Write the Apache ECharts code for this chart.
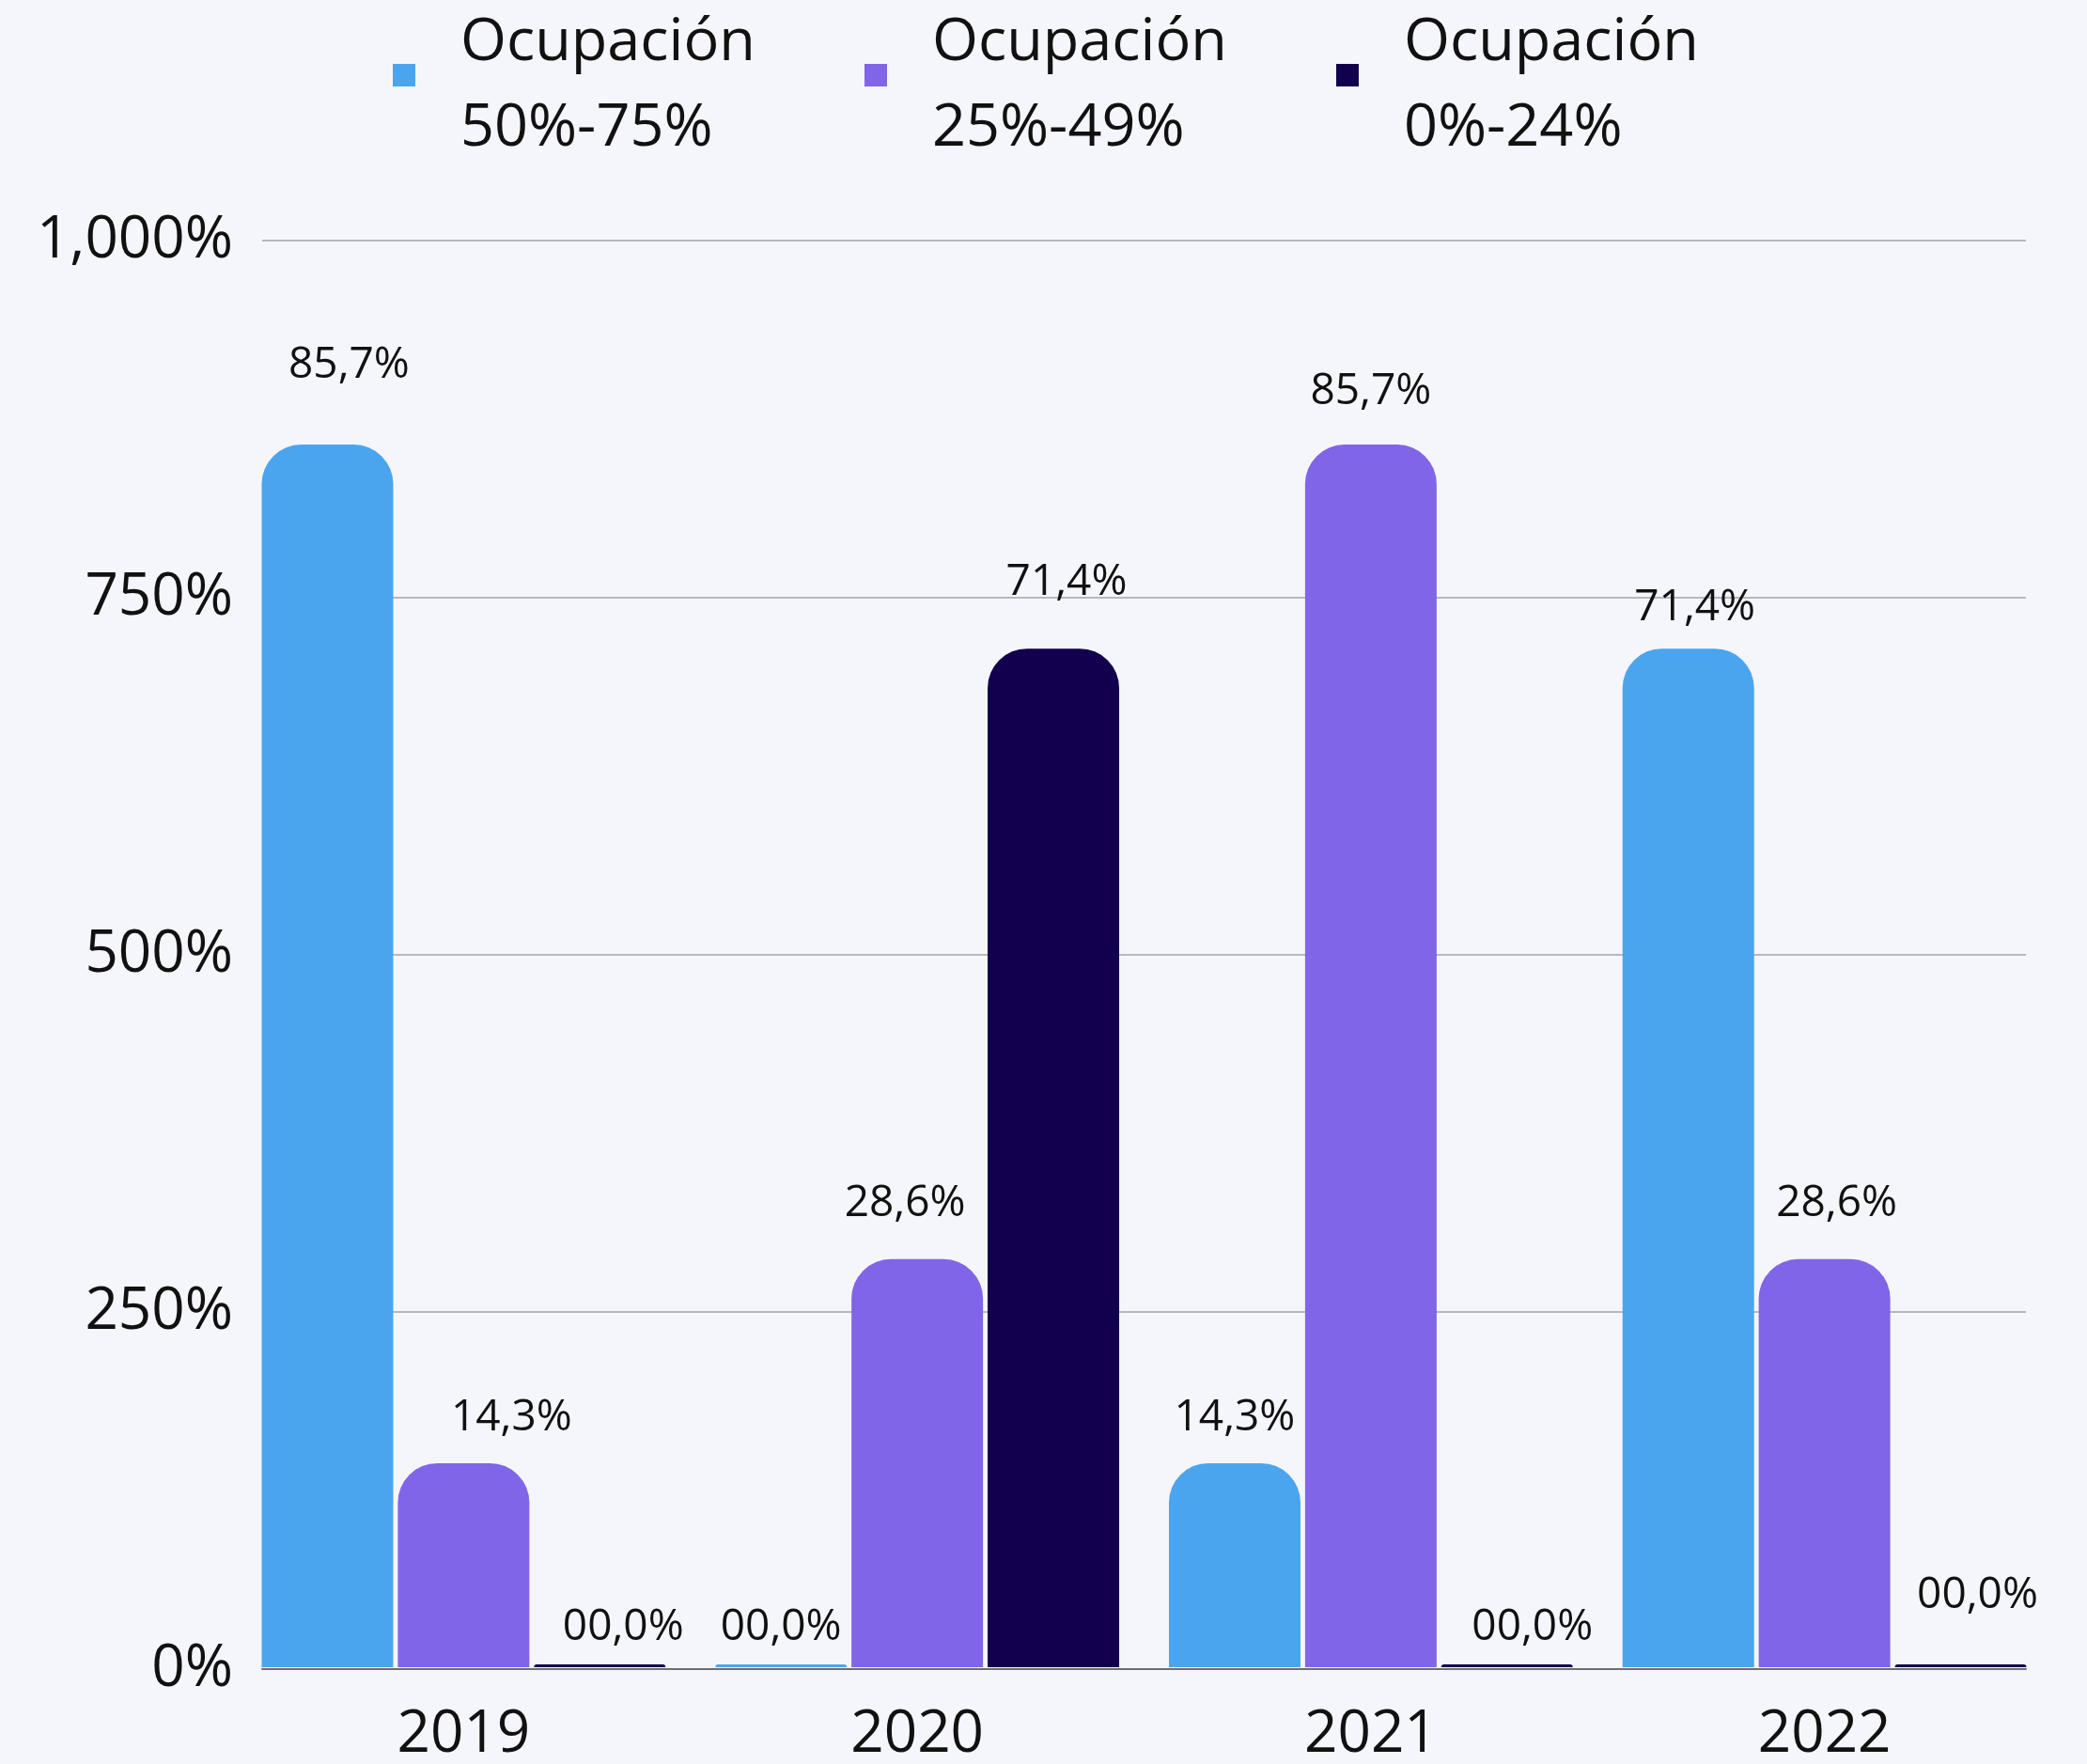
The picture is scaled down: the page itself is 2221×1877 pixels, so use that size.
<!DOCTYPE html>
<html>
<head>
<meta charset="utf-8">
<script src="https://cdn.jsdelivr.net/npm/echarts@6/dist/echarts.min.js"></script>
<style>
  html, body { margin: 0; padding: 0; background: #f5f6fb; }
  #chart { width: 2221px; height: 1877px; }
</style>
</head>
<body>
<div id="chart"></div>
<script>
// years on the x axis
const years = ['2019', '2020', '2021', '2022']
// bar heights, in axis units (axis goes 0% .. 1,000%)
const occ50to75 = [857, 0, 143, 714]
const occ25to49 = [143, 286, 857, 286]
const occ0to24 = [0, 714, 0, 0]
const seriesNames = ['Ocupación\n50%-75%', 'Ocupación\n25%-49%', 'Ocupación\n0%-24%']
const colors = ['#4ba5ee', '#8165e8', '#12004e']

// the source nudged some value labels by hand, [dx, dy] in px
const labelNudge = [
    [[23, -25], [0, 20], [0, 11], [7, 16]],
    [[51, 11], [-13, 0], [0, 3], [13, 0]],
    [[25, 20], [14, -11], [27, 20], [18, -14]]
]

const FONT = '"Open Sans", "Noto Sans", sans-serif'

// the bar labels show the value as a tenth, with a comma decimal
const labelText = v => v === 0 ? '00,0%' : (v / 10).toFixed(1).replace('.', ',') + '%'

const barSeries = (idx, data) => ({
    name: seriesNames[idx],
    type: 'bar',
    xAxisIndex: 1,
    yAxisIndex: 1,
    data: data.map((v, i) => ({ value: v, label: { offset: labelNudge[idx][i] } })),
    barWidth: 140,
    barGap: '3.5%',
    barMinHeight: 3,
    itemStyle: { color: colors[idx], borderRadius: [42, 42, 0, 0] },
    label: {
        show: true,
        position: 'top',
        distance: 36,
        fontFamily: FONT,
        fontSize: 46,
        color: '#111',
        formatter: p => labelText(p.value)
    }
})

const chart = echarts.init(document.getElementById('chart'))
chart.setOption({
    backgroundColor: '#f5f6fb',
    animation: false,
    color: colors,
    legend: {
        left: 413,
        top: -4,
        // square sits in the upper half of the icon box, like the source
        icon: 'path://M0,0h24v24h-24z M0,48 L0.01,48',
        itemWidth: 24,
        itemHeight: 48,
        itemGap: 116,
        textStyle: {
            fontFamily: FONT,
            fontSize: 63,
            lineHeight: 91,
            color: '#111',
            padding: [0, 0, 0, 43]
        },
        data: seriesNames
    },
    grid: [
        // grid holding the gridlines and baseline
        { left: 279, right: 65, top: 256, bottom: 101 },
        // grid holding the bars (slightly wider category band)
        { left: 252, right: 38, top: 256, bottom: 101 }
    ],
    xAxis: [
        {
            gridIndex: 0,
            type: 'category',
            data: years,
            axisLine: { show: true, lineStyle: { color: '#6e6e6e', width: 2 } },
            axisTick: { show: false },
            axisLabel: { show: false }
        },
        {
            gridIndex: 1,
            type: 'category',
            data: years,
            axisLine: { show: false },
            axisTick: { show: false },
            axisLabel: {
                margin: 41,
                fontFamily: FONT,
                fontSize: 62,
                color: '#111'
            }
        }
    ],
    yAxis: [
        {
            gridIndex: 0,
            type: 'value',
            min: 0,
            max: 1000,
            interval: 250,
            axisLine: { show: false },
            axisTick: { show: false },
            splitLine: { lineStyle: { color: '#b7b7bd', width: 2 } },
            axisLabel: {
                margin: 31,
                fontFamily: FONT,
                fontSize: 62,
                color: '#111',
                formatter: v => v.toLocaleString('en-US') + '%'
            }
        },
        {
            gridIndex: 1,
            type: 'value',
            min: 0,
            max: 1000,
            show: false
        }
    ],
    series: [
        barSeries(0, occ50to75),
        barSeries(1, occ25to49),
        barSeries(2, occ0to24)
    ]
})
</script>
</body>
</html>
